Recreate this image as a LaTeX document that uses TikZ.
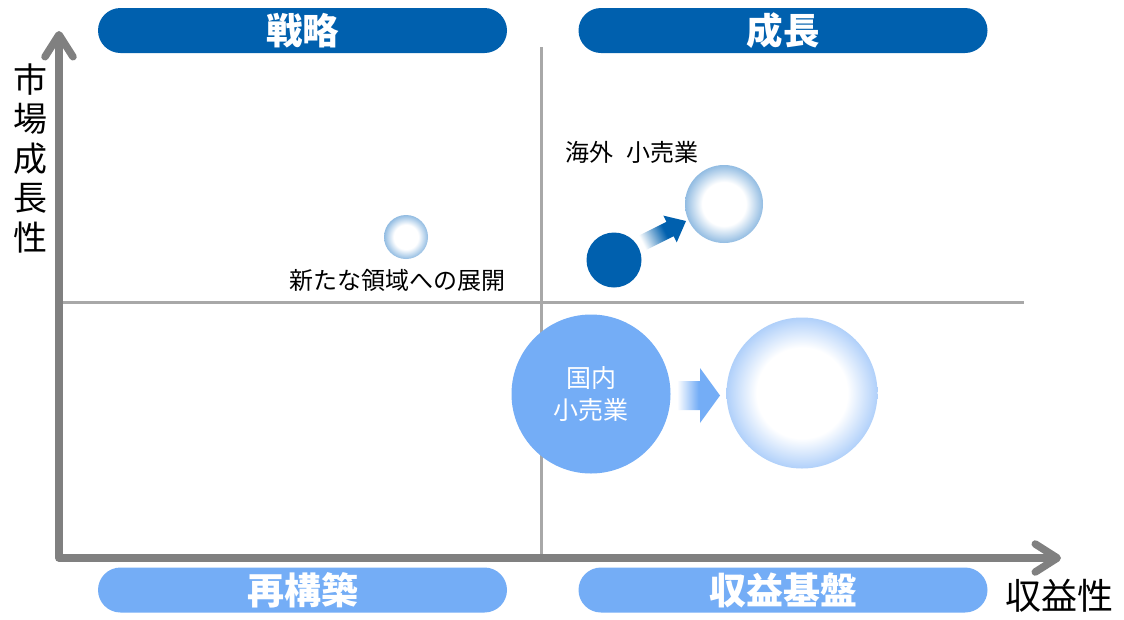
\documentclass[tikz,border=0pt]{standalone}
\usepackage{fontspec}
\setmainfont{Noto Sans CJK JP}
\usetikzlibrary{arrows.meta}
\definecolor{dblue}{RGB}{0,96,174}
\definecolor{lblue}{RGB}{116,173,246}
\definecolor{axisgray}{RGB}{128,128,128}
\definecolor{quadgray}{RGB}{168,168,168}
\definecolor{edgeA}{RGB}{146,188,226}
\definecolor{edgeC}{RGB}{176,208,250}
\pgfdeclareradialshading{bubA}{\pgfpoint{0bp}{0bp}}{color(0bp)=(white); color(14bp)=(white); color(25bp)=(edgeA); color(50bp)=(edgeA)}
\pgfdeclareradialshading{bubC}{\pgfpoint{0bp}{0bp}}{color(0bp)=(white); color(15bp)=(white); color(25bp)=(edgeC); color(50bp)=(edgeC)}
\pgfdeclarehorizontalshading{arrL}{100bp}{color(0bp)=(white); color(25bp)=(white); color(50bp)=(lblue); color(100bp)=(lblue)}
\pgfdeclarehorizontalshading{arrD}{100bp}{color(0bp)=(white); color(27bp)=(white); color(55bp)=(dblue); color(100bp)=(dblue)}
\tikzset{
  pill/.style={rectangle, rounded corners=22.5pt, minimum width=409pt, minimum height=45pt, inner sep=0pt, text=white, font=\bfseries\fontsize{36.5}{40}\selectfont},
  pilltop/.style={pill, fill=dblue},
  pillbot/.style={pill, fill=lblue, font=\bfseries\fontsize{37}{40}\selectfont},
  axisline/.style={draw=axisgray, line width=7.5pt, line join=round, line cap=round,
    arrows={Straight Barb[length=22pt, width=28pt, line cap=round, line join=round]-Straight Barb[length=22pt, width=28pt, line cap=round, line join=round]}},
  quad/.style={draw=quadgray, line width=2.5pt},
  ball/.style={circle, inner sep=0pt, draw=none},
  lab/.style={inner sep=0pt, font=\fontsize{24}{28}\selectfont}
}
\begin{document}
\begin{tikzpicture}[x=1pt, y=-1pt]
\useasboundingbox (0,0) rectangle (1124,619);
\fill[white] (0,0) rectangle (1124,619);
% quadrant lines
\coordinate (vtop) at (541.5,47);
\coordinate (vbot) at (541.5,555);
\coordinate (hl) at (63,302.5);
\coordinate (hr) at (1024,302.5);
\draw[quad] (vtop) -- (vbot);
\draw[quad] (hl) -- (hr);
% axes
\coordinate (O) at (59,558);
\coordinate (ytop) at (59,31);
\coordinate (xend) at (1061,558);
\draw[axisline] (ytop) -- (O) -- (xend);
% pills
\node[pilltop] (strat) at (302.5,30.5) {戦略};
\node[pilltop] (grow) at (783,30.5) {成長};
\node[pillbot] (rebuild) at (302.5,590) {再構築};
\node[pillbot] (base) at (783,590) {収益基盤};
% axis labels
\node[inner sep=0pt, align=center, font=\fontsize{34}{39.5}\selectfont] (ylab) at (30,158) {市\\場\\成\\長\\性};
\node[inner sep=0pt, font=\fontsize{36}{40}\selectfont] (xlab) at (1059,596) {収益性};
% new domain
\node[ball, shading=bubA, minimum size=44pt] (newb) at (406,237) {};
\node[lab] (newlab) at (397,280) {新たな領域への展開};
% overseas
\node[lab] (ovlab) at (632,152) {海外\hspace{0.55em}小売業};
\node[ball, fill=dblue, minimum size=55pt] (ovdot) at (614,260) {};
\node[ball, shading=bubA, minimum size=78pt] (ovb) at (724,204) {};
\shade[shading=arrD, shading angle=26.6] (636.0,237.0) -- (666.4,221.8) -- (663.3,215.6) -- (686,221) -- (676.7,242.4) -- (673.6,236.2) -- (643.2,251.4) -- cycle;
% domestic
\node[ball, fill=lblue, minimum size=159pt, text=white, align=center, font=\fontsize{25}{32}\selectfont] (dom) at (591,394) {国内\\小売業};
\node[ball, shading=bubC, minimum size=151pt] (bigb) at (802,393) {};
\shade[shading=arrL] (677,381) -- (700,381) -- (700,368) -- (720,395.5) -- (700,423) -- (700,410) -- (677,410) -- cycle;
\end{tikzpicture}
\end{document}
